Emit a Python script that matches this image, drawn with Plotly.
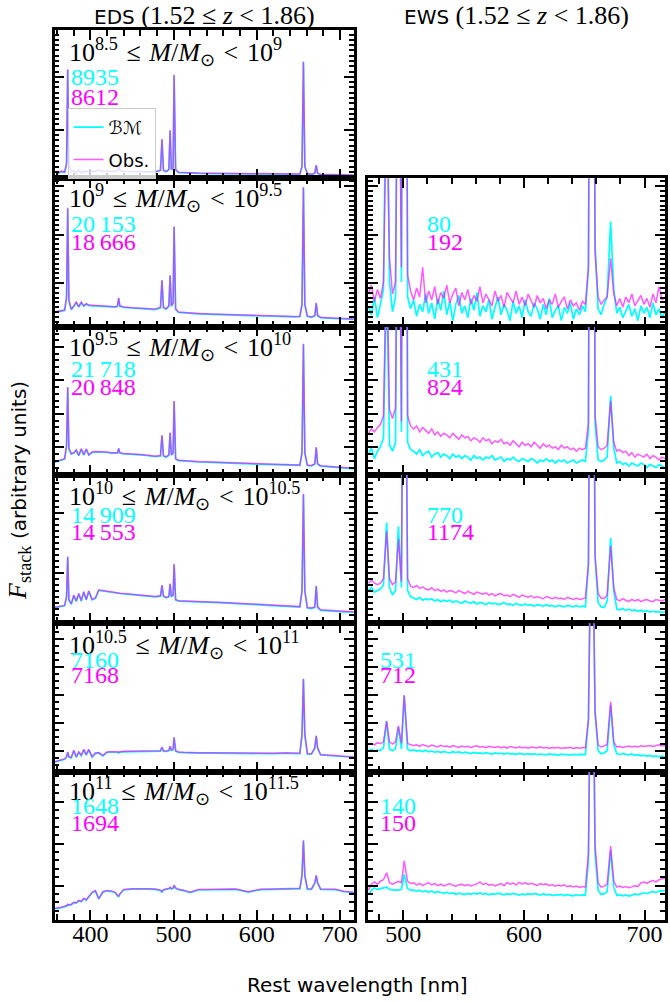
import plotly.graph_objects as go

# ---------------------------------------------------------------- data
# Rest wavelength samples [nm] for the EDS stacks (left column)
WL_EDS = [357, 361, 365, 369, 371.3, 372.7, 374.1, 377, 380, 383, 386, 389, 392, 395, 398,
          402, 406, 410, 415, 420, 425, 430, 432.6, 434.0, 435.4, 440, 450, 460, 470, 478,
          484.3, 486.1, 487.9, 491, 494.4, 495.9, 497.4, 499.5, 500.7, 502.5, 506, 512, 520,
          530, 545, 560, 575, 590, 605, 620, 635, 645, 652, 654.6, 656.3, 658.0, 661, 666,
          670.0, 671.7, 673.4, 677, 685, 695, 705, 717]

# Stacked flux (arbitrary units)
OBS_L1 = [4.5, 3.5, 4.8, 4.2, 10, 73.6, 10, 4.5, 5.2, 3.8, 5.5, 4.0, 5.0, 4.4, 5.2,
          4.8, 5.0, 5.6, 4.8, 5.0, 4.8, 4.8, 5.5, 9.9, 5.5, 4.8, 4.7, 4.6, 4.5, 4.4,
          5.5, 26.4, 5.5, 4.6, 6, 32.5, 6, 7, 69.9, 6, 4.0, 3.8, 3.6, 3.5, 3.4, 3.3, 3.2,
          3.1, 3.0, 2.9, 2.8, 2.8, 2.9, 8, 78.5, 8, 3.2, 2.8, 3.5, 8.8, 3.5, 2.7, 2.6, 2.5, 2.4, 2.2]
BM_L1 = [4.2, 3.2, 4.5, 4.0, 10, 73.0, 10, 4.2, 5.0, 3.5, 5.2, 3.8, 4.8, 4.2, 5.0,
         4.6, 4.8, 5.4, 4.6, 4.8, 4.6, 4.6, 5.3, 9.6, 5.3, 4.6, 4.5, 4.4, 4.3, 4.2,
         5.3, 26.0, 5.3, 4.4, 5.8, 32.0, 5.8, 6.8, 69.5, 5.8, 3.8, 3.6, 3.4, 3.3, 3.2, 3.1, 3.0,
         2.9, 2.8, 2.7, 2.6, 2.6, 2.7, 7.8, 78.5, 7.8, 3.0, 2.6, 3.3, 8.6, 3.3, 2.5, 2.4, 2.3, 2.2, 2.0]

OBS_L2 = [9.9, 10.3, 10.5, 11.2, 20, 80.2, 18, 11.6, 14, 16.5, 13.5, 16.5, 14, 15.5, 14.5,
          14.3, 14.5, 14.2, 14.0, 13.8, 13.6, 13.4, 14, 19.3, 14, 13.2, 12.7, 12.4, 12.1, 11.8,
          13, 31.4, 13, 12, 14, 34.7, 14, 16, 67.7, 12, 9.8, 9.5, 9.2, 8.9, 8.5, 8.2, 7.9,
          7.5, 7.2, 7.0, 6.9, 6.8, 7.0, 15, 94.1, 15, 7.2, 6.5, 7.5, 16, 7.5, 6.3, 6.0, 5.8, 5.5, 5.1]
BM_L2 = [9.6, 10.0, 10.2, 10.9, 19.5, 79.5, 17.5, 11.3, 13.7, 16.2, 13.2, 16.2, 13.7, 15.2, 14.2,
         14.0, 14.2, 13.9, 13.7, 13.5, 13.3, 13.1, 13.7, 19.0, 13.7, 12.9, 12.4, 12.1, 11.8, 11.5,
         12.7, 31.0, 12.7, 11.7, 13.7, 34.3, 13.7, 15.7, 67.2, 11.7, 9.5, 9.2, 8.9, 8.6, 8.2, 7.9, 7.6,
         7.2, 6.9, 6.7, 6.6, 6.5, 6.7, 14.7, 93.5, 14.7, 6.9, 6.2, 7.2, 15.7, 7.2, 6.0, 5.7, 5.5, 5.2, 4.8]

OBS_L3 = [8.8, 9.5, 10, 11, 20, 59.3, 18, 14.3, 15.0, 16.9, 13.2, 17.6, 13.6, 17.6, 13.6,
          15.4, 15.8, 15.8, 15.5, 15.4, 15.0, 14.8, 15, 18, 15, 14.5, 14.3, 13.8, 13.2, 12.6,
          13, 26.8, 13, 12.2, 13.5, 28.6, 13.5, 15, 49.9, 11, 9.9, 9.6, 9.3, 9.0, 8.7, 8.3, 8.0,
          7.7, 7.4, 7.2, 7.0, 6.8, 6.7, 15, 88.4, 15, 6.6, 6.4, 7.5, 18.7, 7.5, 6.2, 5.8, 5.3, 4.9, 4.4]
BM_L3 = [8.5, 9.2, 9.7, 10.7, 19.5, 58.8, 17.5, 14.0, 14.7, 16.6, 12.9, 17.3, 13.3, 17.3, 13.3,
         15.1, 15.5, 15.5, 15.2, 15.1, 14.7, 14.5, 14.7, 17.6, 14.7, 14.2, 14.0, 13.5, 12.9, 12.3,
         12.7, 26.4, 12.7, 11.9, 13.2, 28.2, 13.2, 14.7, 49.4, 10.7, 9.6, 9.3, 9.0, 8.7, 8.4, 8.0, 7.7,
         7.4, 7.1, 6.9, 6.7, 6.5, 6.4, 14.7, 88.0, 14.7, 6.3, 6.1, 7.2, 18.3, 7.2, 5.9, 5.5, 5.0, 4.6, 4.1]

OBS_L4 = [10.8, 11.2, 11.4, 12, 18, 45, 16, 13, 19, 15, 20, 15.2, 21.3, 16, 21.8,
          16, 17, 22.4, 22, 21.5, 21, 20.5, 20.3, 20.5, 20.2, 20, 19.6, 19.2, 18.7, 18,
          18.5, 25.7, 18.5, 17.4, 18, 26.8, 18, 19, 40, 16, 15.2, 15.0, 14.8, 14.6, 14.3, 14.0, 13.6,
          13.2, 12.9, 12.5, 12.0, 11.6, 11.2, 22, 87.3, 22, 10.6, 10.2, 11, 25.3, 11, 9.0, 8.6, 8.3, 8.0, 7.7]
BM_L4 = [10.5, 10.9, 11.1, 11.7, 17.5, 44.5, 15.7, 12.7, 18.7, 14.7, 19.7, 14.9, 21.0, 15.7, 21.5,
         15.7, 16.7, 22.1, 21.7, 21.2, 20.7, 20.2, 20.0, 20.2, 19.9, 19.7, 19.3, 18.9, 18.4, 17.7,
         18.2, 25.3, 18.2, 17.1, 17.7, 26.4, 17.7, 18.7, 39.5, 15.7, 14.9, 14.7, 14.5, 14.3, 14.0, 13.7, 13.3,
         12.9, 12.6, 12.2, 11.7, 11.3, 10.9, 21.7, 86.8, 21.7, 10.3, 9.9, 10.7, 24.8, 10.7, 8.7, 8.3, 8.0, 7.7, 7.4]

OBS_L5 = [6.6, 7.2, 7.7, 8.5, 10, 13.2, 10, 9.5, 14.3, 9.9, 13.2, 11, 14.9, 11.4, 14.9,
          10, 12.5, 12.8, 10.8, 13.2, 13.4, 13.6, 13.3, 12.8, 13.4, 13.6, 13.6, 13.7, 13.8, 13.8,
          14, 16.5, 14, 13.8, 14.2, 17.1, 14.5, 15, 23.1, 14, 13.2, 13, 12.8, 12.7, 12.7, 12.6, 12.5,
          12.2, 12.1, 12.3, 12.6, 12.5, 12.3, 25, 62.6, 25, 12.1, 12.0, 16, 24.2, 16, 11.4, 11.0, 10.6, 10.3, 9.9]
BM_L5 = [6.3, 6.9, 7.4, 8.2, 9.7, 12.9, 9.7, 9.2, 14.0, 9.6, 12.9, 10.7, 14.6, 11.1, 14.6,
         9.7, 12.2, 12.5, 10.5, 12.9, 13.1, 13.3, 13.0, 12.5, 13.1, 13.3, 13.3, 13.4, 13.5, 13.5,
         13.7, 16.2, 13.7, 13.5, 13.9, 16.8, 14.2, 14.7, 22.8, 13.7, 12.9, 12.7, 12.5, 12.4, 12.4, 12.3, 12.2,
         11.9, 11.8, 12.0, 12.3, 12.2, 12.0, 24.7, 62.3, 24.7, 11.8, 11.7, 15.7, 23.9, 15.7, 11.1, 10.7, 10.3, 10.0, 9.6]

OBS_L6 = [7.7, 8.0, 8.5, 9.2, 9.5, 10.5, 10, 10.5, 11.8, 11.5, 13.1, 12.5, 14.5, 13.5, 16,
          18.5, 19.7, 14.2, 19, 19.7, 19.5, 18.5, 16.5, 16, 17.5, 20.4, 21, 21.2, 21, 20.8,
          20, 19, 20.4, 20.8, 21.2, 21.9, 21, 21.5, 23.4, 21.5, 20.6, 20, 18.6, 20.4, 20.6, 20.4, 20.8,
          19, 20.6, 20.8, 20.8, 21, 21.2, 30, 53.6, 30, 21, 20.8, 25, 30, 25, 20.8, 20.8, 20.6, 19.2, 18.6]
BM_L6 = [7.4, 7.7, 8.2, 8.9, 9.2, 10.2, 9.7, 10.2, 11.5, 11.2, 12.8, 12.2, 14.2, 13.2, 15.7,
         18.2, 19.4, 13.9, 18.7, 19.4, 19.2, 18.2, 16.2, 15.7, 17.2, 20.1, 20.7, 20.9, 20.7, 20.5,
         19.7, 18.7, 20.1, 20.5, 20.9, 21.6, 20.7, 21.2, 23.1, 21.2, 20.3, 19.7, 18.3, 20.1, 20.3, 20.1, 20.5,
         18.7, 20.3, 20.5, 20.5, 20.7, 20.9, 29.7, 53.3, 29.7, 20.7, 20.5, 24.7, 29.7, 24.7, 20.5, 20.5, 20.3, 18.9, 18.3]

# Rest wavelength samples [nm] for the EWS stacks (right column)
WL_EWS = [471, 473.5, 476, 478.5, 481, 483.5, 486.1, 488.5, 491, 493.5,
          495.9, 498.4, 500.7, 503.5, 506, 508.5, 511, 513.5, 516, 518.5,
          521, 523.5, 526, 528.5, 531, 533.5, 536, 538.5, 541, 543.5,
          546, 548.5, 551, 553.5, 556, 558.5, 561, 563.5, 566, 568.5,
          571, 573.5, 576, 578.5, 581, 583.5, 586, 588.5, 591, 593.5,
          596, 598.5, 601, 603.5, 606, 608.5, 611, 613.5, 616, 618.5,
          621, 623.5, 626, 628.5, 631, 633.5, 636, 638.5, 641, 643.5,
          646, 648.5, 651, 653.5, 656.3, 659, 661.5, 664, 666.5, 669,
          671.9, 674.5, 677, 679.5, 682, 684.5, 687, 689.5, 692, 694.5,
          697, 699.5, 702, 704.5, 707, 709.5, 712, 714.5, 717]

OBS_R2 = [22, 28, 17, 25, 19, 30, 160, 46, 22, 30, 250, 40, 600, 35, 24,
          18, 26, 20, 40, 16, 24, 18, 27, 15, 23, 19, 28, 16, 22, 26, 14, 23, 18, 25, 15, 21, 17, 27,
          16, 22, 18, 14, 24, 17, 21, 13, 23, 19, 16, 24, 15, 20, 14, 22, 17, 13, 21, 16, 19, 12, 18,
          15, 22, 13, 17, 20, 12, 18, 14, 16, 11, 17, 15,
          40, 500, 50, 20, 15, 18, 20, 46, 22,
          14, 19, 13, 20, 16, 22, 14, 18, 21, 15, 19, 13, 22, 16, 27, 18, 20]
BM_R2 = [14, 8, 20, 6, 15, 25, 200, 30, 10, 20, 300, 30, 700, 20, 12,
         18, 7, 15, 10, 22, 9, 16, 5, 19, 11, 24, 8, 17, 4, 15, 21, 9, 14, 6, 19, 11, 23, 7,
         14, 10, 18, 5, 13, 20, 8, 15, 11, 4, 17, 9, 14, 6, 18, 10, 7, 16, 12, 5, 15, 8, 19,
         6, 11, 14, 4, 13, 9, 16, 5, 12, 8, 14, 10,
         40, 600, 55, 12, 8, 15, 20, 70.8, 25,
         9, 13, 6, 11, 15, 7, 12, 4, 14, 9, 13, 6, 16, 8, 12, 6, 10]

OBS_R3 = [28, 31, 29, 32, 34, 40, 150, 44, 38, 45, 300, 36, 800, 40, 33,
          31, 33, 29, 32, 30, 28, 31, 27, 29, 26, 28, 27, 25, 28, 26, 24, 27, 25, 26, 23, 25, 24, 22,
          25, 23, 24, 21, 23, 22, 24, 21, 22, 20, 23, 21, 19, 22, 20, 21, 19, 22, 20, 18, 21, 19, 20,
          18, 19, 17, 20, 18, 19, 17, 18, 16, 18, 17, 18,
          35, 700, 40, 19, 17, 18, 20, 50, 22,
          16, 17, 15, 16, 13, 15, 12, 14, 13, 12, 14, 11, 13, 12, 10, 12, 11]
BM_R3 = [14, 18, 11, 16, 19, 25, 140, 20, 16, 22, 300, 29, 800, 22, 17,
         16, 14, 17, 13, 15, 16, 12, 14, 15, 12, 14, 13, 11, 14, 12, 13, 11, 13, 12, 10, 13, 11, 12,
         10, 12, 11, 13, 10, 11, 12, 9, 11, 10, 12, 10, 9, 11, 10, 9, 11, 10, 8, 10, 9, 11, 9,
         10, 8, 10, 9, 10, 8, 9, 10, 8, 9, 10, 9,
         30, 800, 35, 10, 9, 10, 12, 53.4, 18,
         8, 9, 7, 8, 6, 8, 7, 6, 8, 7, 5, 7, 6, 5, 7, 6, 5]

OBS_R4 = [27, 29, 27, 26, 27, 30, 62, 30, 26, 28, 56.5, 28, 300, 30, 25,
          24, 25.5, 23.5, 24.5, 23, 22.5, 24, 22, 23, 21.5, 22.5, 21, 22, 21.5, 20.5, 22, 21, 20, 21.5,
          20.5, 19.5, 21, 20, 19.5, 20.5, 19, 20, 18.5, 19.5, 20, 18.5, 19, 18, 19.5, 18.5, 17.5, 19,
          18, 17.5, 18.5, 17, 18, 17.5, 16.5, 18, 17, 16.5, 17.5, 16.5, 17, 16, 17.5, 16.5, 16, 17,
          16, 16.5, 17,
          40, 400, 45, 20, 17, 16.5, 19, 52.1, 24,
          16, 15, 16.5, 15.5, 14.5, 16, 15, 16, 14.5, 15.5, 16, 15, 14.5, 16, 15.5, 15, 16]
BM_R4 = [22, 24, 21, 22, 23, 26, 67.9, 24, 19, 22, 65.3, 24, 350, 22, 18,
         17, 16, 17.5, 15.5, 16.5, 15.8, 16.5, 15, 16, 14.5, 15.5, 14.7, 15.5, 14, 15, 14.5, 13.5, 15,
         14, 13.6, 14.5, 13, 14, 13.5, 12.5, 14, 13, 13.5, 12.5, 13, 14, 12.5, 13, 12, 13.5, 12.5, 12,
         13, 12, 12.5, 11.5, 12.5, 12, 11.5, 12.5, 11.5, 12, 11, 12, 11.5, 11, 12, 11.4, 11, 12, 11,
         11.5, 11,
         40, 450, 45, 14, 11, 10.5, 15, 57.6, 22,
         9.5, 9, 10, 8.5, 9.5, 8.5, 9, 8, 8.8, 7.8, 8.5, 7.5, 8.2, 7.5, 8, 7.2, 7.7]

OBS_R5 = [18.5, 19, 18, 19.5, 18.7, 20, 34, 20, 18.5, 20, 30.8, 19, 51.6, 19, 18,
          17.5, 18, 17, 18.2, 17.4, 16.8, 17.8, 17, 16.5, 17.6, 16.8, 17.2, 16.4, 17.5, 16.8, 16.2,
          17.2, 16.5, 17, 16.2, 16.8, 17.3, 16.4, 16.8, 16, 17, 16.5, 16.2, 16.9, 16.1, 16.6, 15.8,
          16.8, 16.2, 15.9, 16.6, 16, 16.4, 15.7, 16.5, 16.1, 15.8, 16.6, 15.9, 16.3, 15.6, 16.2,
          15.8, 16.4, 15.6, 16, 15.8, 16.3, 15.5, 16.1, 15.7, 16.2, 16,
          35, 200, 40, 18, 16.5, 17, 18, 47, 20,
          16.5, 17, 16.2, 16.8, 17.2, 16.5, 17, 16.6, 17.4, 16.8, 17.2, 17.6, 16.9, 17.5, 18, 17.2, 17.6]
BM_R5 = [14, 14.8, 13.8, 14.5, 14.2, 16, 34, 15, 14, 15.5, 30, 15, 51, 15, 14,
         14.5, 13.8, 14.2, 13.5, 14.3, 13.2, 13.8, 13, 13.6, 12.8, 13.5, 13, 12.6, 13.4, 12.7, 13.2,
         12.4, 13, 12.5, 12.1, 12.9, 12.3, 12.6, 12, 12.7, 12.2, 11.8, 12.5, 12, 12.3, 11.7, 12.4,
         11.9, 12.1, 11.6, 12.2, 11.8, 11.5, 12, 11.6, 11.9, 11.3, 11.8, 11.5, 11.2, 11.9, 11.4,
         11.6, 11.1, 11.7, 11.3, 11.5, 11, 11.6, 11.2, 11.5, 11.3, 11.4,
         35, 220, 40, 14, 12, 12.5, 14, 45, 18,
         12, 11.5, 12.2, 11.6, 11.2, 11.8, 10.9, 11.3, 10.6, 11, 10.4, 10.8, 10.1, 10.5, 9.9, 10.3, 9.9]

OBS_R6 = [20, 24, 25.5, 24, 26, 27, 31.7, 25, 24, 25, 26, 25, 39.8, 26, 24.5,
          25, 23.5, 24.5, 23, 24.2, 25, 23.6, 24.4, 23, 24, 22.8, 23.8, 24.4, 23.2, 22.6, 23.6, 24,
          23, 23.8, 22.8, 23.4, 24.2, 25.5, 23.8, 24.6, 23.4, 24, 22.8, 23.6, 24.4, 23, 25, 24, 24.8,
          23.6, 25.2, 24.2, 25, 23.8, 24.6, 24, 23.2, 24.4, 23.6, 24.2, 23, 23.8, 22.6, 23.4, 22.8,
          23.6, 22.4, 23, 22.2, 22.8, 21.8, 22.4, 22,
          45, 250, 50, 25, 22, 22.5, 24, 49.7, 26,
          22, 22.8, 21.8, 22.4, 21.6, 22.2, 23, 22.4, 24.8, 25.4, 24.6, 25.8, 26.4, 25.6, 27, 27.6, 28]
BM_R6 = [17, 20, 21.5, 20.5, 21, 21.5, 22, 20.5, 20, 20, 20, 20.5, 30.6, 21, 20,
         20, 19.2, 20, 18.8, 19.6, 18.6, 19.4, 18.2, 19, 18.4, 17.8, 18.6, 17.6, 18.2, 17.2, 18, 17.6,
         17, 17.8, 17.2, 18, 17.4, 18.2, 17.2, 17.8, 16.8, 17.6, 17.2, 18, 17.4, 16.8, 17.6, 17, 17.8,
         17.2, 16.6, 17.4, 16.8, 17.6, 17, 17.8, 17.2, 16.6, 17.4, 16.8, 17.2, 16.4, 17, 16.6, 17.2,
         16.4, 17, 16.6, 16.2, 17, 16.4, 16.8, 16.5,
         40, 260, 45, 20, 17, 17.5, 19, 47, 22,
         16.4, 17, 16.2, 16.8, 16, 16.6, 17.4, 16.8, 17.6, 18.2, 17.6, 18.6, 19, 18.4, 19.4, 19.8, 19.7]

MASS_LO = ["8.5", "9", "9.5", "10", "10.5", "11"]
MASS_HI = ["9", "9.5", "10", "10.5", "11", "11.5"]
N_EDS_BM = ["8935", "20\u2009153", "21\u2009718", "14\u2009909", "7160", "1648"]
N_EDS_OBS = ["8612", "18\u2009666", "20\u2009848", "14\u2009553", "7168", "1694"]
N_EWS_BM = ["80", "431", "770", "531", "140"]
N_EWS_OBS = ["192", "824", "1174", "712", "150"]

# ---------------------------------------------------------------- style / geometry
FW, FH = 670, 1003
LEFT_PX = (55, 356)
RIGHT_PX = (370, 669)
ROW_H = 148.3
ROW_TOP = [30 + k * ROW_H for k in range(6)]
XR_LEFT = [357, 717]
XR_RIGHT = [470.5, 717]
ROW_DTICK = [35.6, 32.6, 22.6, 40.6, 18.9, 28.3]
ROW_TICK0 = [32.8, 29.4, 18.5, 33.9, 14.0, 23.1]
ROW_NMINOR = [10, 10, 5, 10, 4, 5]
LBL_FR = [0.145, 0.135, 0.14, 0.14, 0.145, 0.13]
C1_FR = [0.32, 0.31, 0.285, 0.27, 0.245, 0.235]
C2_FR = [0.455, 0.43, 0.41, 0.385, 0.35, 0.345]

CYAN = "#00FFFF"
MAG = "#FF00FF"
SERIF = "Liberation Serif"
SANS = "DejaVu Sans"
SP = "\u2005"
SP2 = "\u2004"

eds_bm = [BM_L1, BM_L2, BM_L3, BM_L4, BM_L5, BM_L6]
eds_obs = [OBS_L1, OBS_L2, OBS_L3, OBS_L4, OBS_L5, OBS_L6]
ews_bm = [BM_R2, BM_R3, BM_R4, BM_R5, BM_R6]
ews_obs = [OBS_R2, OBS_R3, OBS_R4, OBS_R5, OBS_R6]

panels = []  # (row, col, wl, bm, obs, nbm, nobs)
for r in range(6):
    panels.append((r, 0, WL_EDS, eds_bm[r], eds_obs[r], N_EDS_BM[r], N_EDS_OBS[r]))
for r in range(1, 6):
    panels.append((r, 1, WL_EWS, ews_bm[r - 1], ews_obs[r - 1], N_EWS_BM[r - 1], N_EWS_OBS[r - 1]))

fig = go.Figure()
layout = dict(
    width=FW, height=FH, margin=dict(l=0, r=0, t=0, b=0),
    paper_bgcolor="white", plot_bgcolor="white", showlegend=True,
    legend=dict(x=68 / FW, y=1 - 108 / FH, xanchor="left", yanchor="top",
                bgcolor="rgba(255,255,255,0.8)", bordercolor="#cccccc", borderwidth=1,
                tracegroupgap=6, itemwidth=30,
                font=dict(family=SANS, size=18, color="black")),
)
annotations = []

for i, (r, c, wl, bm, obs, nbm, nobs) in enumerate(panels, start=1):
    xs = "" if i == 1 else str(i)
    xa, ya = "x" + xs, "y" + xs
    fig.add_trace(go.Scatter(x=wl, y=bm, mode="lines", name="\u212C\u2133",
                             line=dict(color=CYAN, width=1.7), xaxis=xa, yaxis=ya,
                             showlegend=(i == 1), legendgroup="bm", hoverinfo="skip"))
    fig.add_trace(go.Scatter(x=wl, y=obs, mode="lines", name="Obs.", opacity=0.65,
                             line=dict(color=MAG, width=1.5), xaxis=xa, yaxis=ya,
                             showlegend=(i == 1), legendgroup="obs", hoverinfo="skip"))
    px = LEFT_PX if c == 0 else RIGHT_PX
    top = ROW_TOP[r]
    bot = top + ROW_H
    common = dict(showline=True, linewidth=2.5, linecolor="black", mirror="allticks",
                  ticks="inside", ticklen=10, tickwidth=2, tickcolor="black",
                  showgrid=False, zeroline=False)
    layout["xaxis" + xs] = dict(
        common, domain=[px[0] / FW, px[1] / FW], range=XR_LEFT if c == 0 else XR_RIGHT,
        anchor=ya, tick0=0, dtick=100,
        minor=dict(ticks="inside", ticklen=6, tickwidth=1.5, tickcolor="black", dtick=20, tick0=0),
        showticklabels=(r == 5), ticklabelstandoff=-9,
        tickfont=dict(family=SERIF, size=24, color="black"))
    layout["yaxis" + xs] = dict(
        common, domain=[1 - bot / FH, 1 - top / FH], range=[0, 100], anchor=xa,
        tick0=ROW_TICK0[r], dtick=ROW_DTICK[r], showticklabels=False,
        minor=dict(ticks="inside", ticklen=5, tickwidth=1.5, tickcolor="black",
                   tick0=ROW_TICK0[r], dtick=ROW_DTICK[r] / ROW_NMINOR[r]))
    xdom, ydom = xa + " domain", ya + " domain"
    if c == 0:
        annotations.append(dict(
            xref=xdom, yref=ydom, x=12 / 301, y=1 - LBL_FR[r], xanchor="left", yanchor="middle",
            text=("10<sup>%s</sup>%s\u2264%s<i>M</i>/<i>M</i><sub>\u2299</sub>%s&lt;%s10<sup>%s</sup>"
                  % (MASS_LO[r], SP2, SP2, SP2, SP2, MASS_HI[r])),
            showarrow=False, font=dict(family=SERIF, size=26, color="black")))
        cx = 14 / 301
    else:
        cx = 58 / 299 if r <= 3 else 10 / 299
    annotations.append(dict(xref=xdom, yref=ydom, x=cx, y=1 - C1_FR[r],
                            xanchor="left", yanchor="middle", text=nbm, showarrow=False,
                            font=dict(family=SERIF, size=24, color=CYAN)))
    annotations.append(dict(xref=xdom, yref=ydom, x=cx, y=1 - C2_FR[r],
                            xanchor="left", yanchor="middle", text=nobs, showarrow=False,
                            font=dict(family=SERIF, size=24, color=MAG)))

TITLE_TAIL = " (1.52%s\u2264%s<i>z</i>%s&lt;%s1.86)" % (SP, SP, SP, SP)
annotations += [
    dict(xref="paper", yref="paper", x=(LEFT_PX[0] + LEFT_PX[1]) / 2 / FW, y=1 - 16 / FH,
         xanchor="center", yanchor="middle", showarrow=False,
         text='<span style="font-family:DejaVu Sans;font-size:20px">EDS</span>' + TITLE_TAIL,
         font=dict(family=SERIF, size=26, color="black")),
    dict(xref="paper", yref="paper", x=(RIGHT_PX[0] + RIGHT_PX[1]) / 2 / FW, y=1 - 16 / FH,
         xanchor="center", yanchor="middle", showarrow=False,
         text='<span style="font-family:DejaVu Sans;font-size:20px">EWS</span>' + TITLE_TAIL,
         font=dict(family=SERIF, size=26, color="black")),
    dict(xref="paper", yref="paper", x=360 / FW, y=1 - 985 / FH, xanchor="center", yanchor="middle",
         showarrow=False, text="Rest wavelength [nm]", font=dict(family=SANS, size=20, color="black")),
    dict(xref="paper", yref="paper", x=19 / FW, y=1 - 490 / FH, xanchor="center", yanchor="middle",
         showarrow=False, textangle=-90,
         text='<i>F</i><sub>stack</sub> <span style="font-family:DejaVu Sans;font-size:20px">(arbitrary units)</span>',
         font=dict(family=SERIF, size=26, color="black")),
]
layout["annotations"] = annotations
fig.update_layout(**layout)
fig.write_html("out.html")
